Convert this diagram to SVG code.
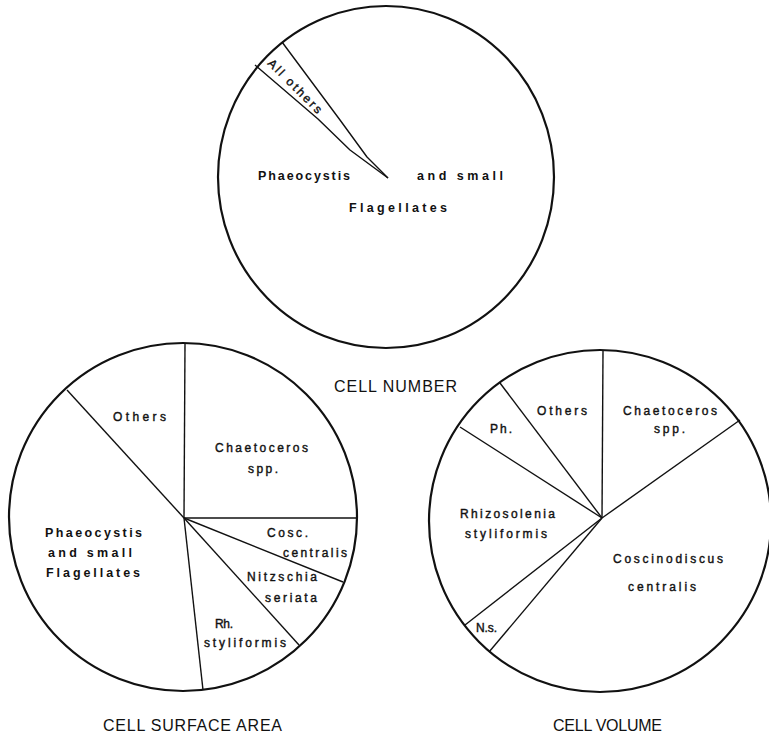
<svg xmlns="http://www.w3.org/2000/svg" width="769" height="734" viewBox="0 0 769 734">
<style>
.circ{fill:none;stroke:#111;stroke-width:2.2}
.ln{fill:none;stroke:#111;stroke-width:1.4;stroke-linejoin:round}
.lb{font-family:"Liberation Sans",Arial,sans-serif;font-size:12px;fill:#111;stroke:#111;stroke-width:0.4}
.lbb{font-family:"Liberation Sans",Arial,sans-serif;font-size:12.5px;font-weight:bold;fill:#111}
.ttl{font-family:"Liberation Sans",Arial,sans-serif;font-size:16px;fill:#111}
</style>
<rect width="769" height="734" fill="#fff"/>

<g id="pie-cell-number">
  <ellipse class="circ" cx="386" cy="177" rx="168" ry="171"/>
  <g id="cn-connectors">
    <polyline class="ln" points="282,42 340,120 367,157 388,178"/>
    <polyline class="ln" points="255,65 318,119 350,150 388,178"/>
  </g>
  <text class="lb" font-size="11" transform="translate(267,64) rotate(45)" textLength="71" lengthAdjust="spacing">All others</text>
  <text class="lbb" x="258" y="180" textLength="92" lengthAdjust="spacing">Phaeocystis</text>
  <text class="lbb" x="417" y="180" textLength="86" lengthAdjust="spacing">and small</text>
  <text class="lbb" x="349" y="212" textLength="98" lengthAdjust="spacing">Flagellates</text>
  <text class="ttl" x="334" y="392" textLength="123" lengthAdjust="spacing">CELL NUMBER</text>
</g>

<g id="pie-cell-surface-area">
  <circle class="circ" cx="183" cy="517" r="174"/>
  <g id="csa-connectors">
    <line class="ln" x1="184" y1="518" x2="185" y2="344"/>
    <line class="ln" x1="184" y1="518" x2="67" y2="390"/>
    <line class="ln" x1="184" y1="518" x2="357" y2="518"/>
    <line class="ln" x1="184" y1="518" x2="343" y2="582"/>
    <line class="ln" x1="184" y1="518" x2="299" y2="645"/>
    <line class="ln" x1="184" y1="518" x2="203" y2="690"/>
  </g>
  <text class="lb" x="113" y="421" textLength="53" lengthAdjust="spacing">Others</text>
  <text class="lb" x="215" y="452" textLength="93" lengthAdjust="spacing">Chaetoceros</text>
  <text class="lb" x="248" y="473" textLength="30" lengthAdjust="spacing">spp.</text>
  <text class="lbb" x="45" y="537" textLength="97" lengthAdjust="spacing">Phaeocystis</text>
  <text class="lbb" x="48" y="557" textLength="84" lengthAdjust="spacing">and small</text>
  <text class="lbb" x="46" y="577" textLength="94" lengthAdjust="spacing">Flagellates</text>
  <text class="lb" x="267" y="537" textLength="41" lengthAdjust="spacing">Cosc.</text>
  <text class="lb" x="283" y="557" textLength="64" lengthAdjust="spacing">centralis</text>
  <text class="lb" x="247" y="581" textLength="70" lengthAdjust="spacing">Nitzschia</text>
  <text class="lb" x="265" y="602" textLength="52" lengthAdjust="spacing">seriata</text>
  <text class="lb" x="215" y="628" textLength="18" lengthAdjust="spacing">Rh.</text>
  <text class="lb" x="204" y="647" textLength="82" lengthAdjust="spacing">styliformis</text>
  <text class="ttl" x="103" y="731" textLength="179" lengthAdjust="spacing">CELL SURFACE AREA</text>
</g>

<g id="pie-cell-volume">
  <circle class="circ" cx="600" cy="521" r="171"/>
  <g id="cv-connectors">
    <line class="ln" x1="602" y1="518" x2="603" y2="351"/>
    <line class="ln" x1="602" y1="518" x2="740" y2="420"/>
    <line class="ln" x1="602" y1="518" x2="500" y2="383"/>
    <line class="ln" x1="602" y1="518" x2="460" y2="427"/>
    <line class="ln" x1="602" y1="518" x2="465" y2="625"/>
    <line class="ln" x1="602" y1="518" x2="489" y2="652"/>
  </g>
  <text class="lb" x="537" y="415" textLength="50" lengthAdjust="spacing">Others</text>
  <text class="lb" x="623" y="415" textLength="94" lengthAdjust="spacing">Chaetoceros</text>
  <text class="lb" x="654" y="433" textLength="31" lengthAdjust="spacing">spp.</text>
  <text class="lb" x="490" y="433" textLength="22" lengthAdjust="spacing">Ph.</text>
  <text class="lb" x="460" y="518" textLength="95" lengthAdjust="spacing">Rhizosolenia</text>
  <text class="lb" x="465" y="538" textLength="82" lengthAdjust="spacing">styliformis</text>
  <text class="lb" x="613" y="563" textLength="110" lengthAdjust="spacing">Coscinodiscus</text>
  <text class="lb" x="628" y="591" textLength="68" lengthAdjust="spacing">centralis</text>
  <text class="lb" font-size="10" x="476" y="632" textLength="21" lengthAdjust="spacing">N.s.</text>
  <text class="ttl" x="553" y="731" textLength="109" lengthAdjust="spacing">CELL VOLUME</text>
</g>
</svg>
